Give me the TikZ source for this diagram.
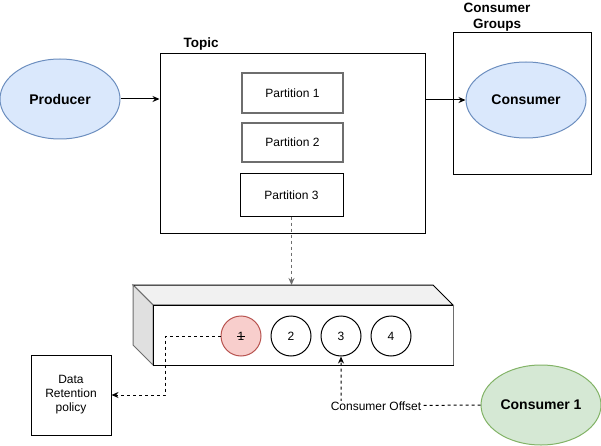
\documentclass[tikz,border=0pt]{standalone}
\usepackage{fontspec}
\setmainfont{Liberation Sans}
\usetikzlibrary{arrows.meta,shapes.geometric}
\definecolor{bluefill}{HTML}{DAE8FC}
\definecolor{bluedraw}{HTML}{6C8EBF}
\definecolor{greenfill}{HTML}{D5E8D4}
\definecolor{greendraw}{HTML}{82B366}
\definecolor{redfill}{HTML}{F8CECC}
\definecolor{reddraw}{HTML}{B85450}
\definecolor{topface}{HTML}{F1F1F1}
\definecolor{sideface}{HTML}{E0E0E0}
\definecolor{edgegray}{HTML}{6E6E6E}
\begin{document}
\begin{tikzpicture}[x=1pt,y=-1pt,line width=1pt,
  every node/.style={font=\fontsize{12}{14}\selectfont},
  ell/.style={ellipse,draw=bluedraw,fill=bluefill,minimum width=120pt,minimum height=80pt,inner sep=0pt,font=\fontsize{14}{16}\selectfont\bfseries},
  boxrect/.style={draw,rectangle,inner sep=0pt},
  part/.style={draw=edgegray,line width=1.4pt,rectangle,inner sep=0pt,minimum height=40pt,align=center},
  slot/.style={circle,draw,minimum size=40pt,inner sep=0pt},
  conn/.style={-{Stealth[length=7pt,width=6pt]}},
  dconn/.style={-{Stealth[length=7pt,width=6pt]},dash pattern=on 3pt off 3pt},
  title/.style={font=\fontsize{13.5}{15.5}\selectfont\bfseries,align=center}
]
\useasboundingbox (0,0) rectangle (601,446);

% Producer
\node[ell] (prod) at (60,99) {Producer};

% Topic
\node[boxrect,minimum width=265pt,minimum height=179pt] (topic) at (292.5,143.5) {};
\node[title] (topiclbl) at (201,44) {Topic};
\node[part,minimum width=101pt] (p1) at (292.5,93) {Partition 1};
\node[part,minimum width=101pt,minimum height=39pt] (p2) at (292.5,142.5) {Partition 2};
\node[draw,rectangle,inner sep=0pt,minimum width=103pt,minimum height=42pt] (p3) at (291.5,195) {Partition 3};

% Consumer groups
\node[boxrect,minimum width=138pt,minimum height=142pt] (grp) at (522,104) {};
\node[title] (grplbl) at (497,17) {Consumer\\Groups};
\node[ell,minimum height=76pt] (cons) at (526,100) {Consumer};

% Cube (log)
\filldraw[fill=topface,draw=black] (133,285) -- (433,285) -- (453,305) -- (153,305) -- cycle;
\filldraw[fill=sideface,draw=edgegray] (133,285) -- (153,305) -- (153,365) -- (133,345) -- cycle;
\draw[fill=white,draw=black] (153,305) rectangle (453,365);
\draw[edgegray] (453,305) -- (453,365);
\coordinate (cubetop) at (291.5,285);

\node[slot,draw=reddraw,fill=redfill] (c1) at (241,336) {1};
\draw[line width=0.8pt] ([xshift=-4pt,yshift=-0.5pt]c1.center) -- ([xshift=4pt,yshift=-0.5pt]c1.center);
\node[slot] (c2) at (291,336) {2};
\node[slot] (c3) at (341,336) {3};
\node[slot] (c4) at (391,336) {4};

% Data retention
\node[boxrect,minimum width=80pt,minimum height=80pt,align=center] (data) at (71,395) {Data\\Retention\\policy};

% Consumer 1
\node[ell,draw=greendraw,fill=greenfill] (cons1) at (541,405) {Consumer 1};

% Connectors
\draw[conn] (prod.east) -- (prod.east -| topic.west);
\draw[conn] (topic.east |- cons.west) -- (cons.west);
\draw[dconn,draw=edgegray] (p3.south) -- (cubetop);
\coordinate (k1) at (165,336);
\draw[dconn] (c1.west) -- (k1) |- (data.east);
\coordinate (k2) at (341,406);
\draw[dconn] (cons1.west) -- (k2) -- (c3.south);
\node[fill=white,inner sep=1pt] (offlbl) at (376,406) {Consumer Offset};
\end{tikzpicture}
\end{document}
